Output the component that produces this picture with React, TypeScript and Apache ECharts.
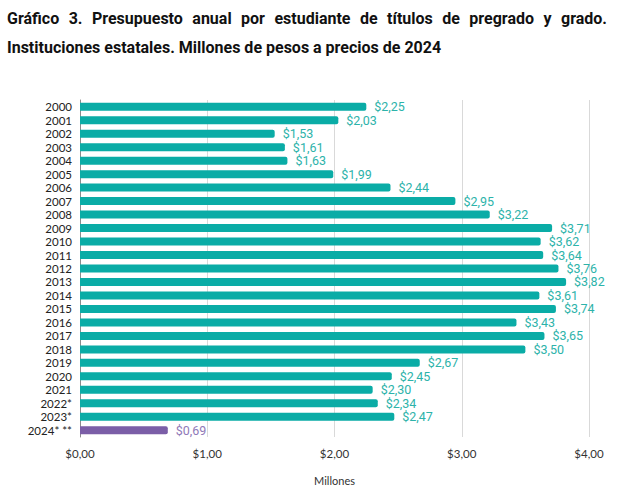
import React, { useEffect, useRef } from "react";
import * as echarts from "echarts";

const categories = ["2000","2001","2002","2003","2004","2005","2006","2007","2008","2009","2010","2011","2012","2013","2014","2015","2016","2017","2018","2019","2020","2021","2022*","2023*","2024* **"];
const values = [2.25,2.03,1.53,1.61,1.63,1.99,2.44,2.95,3.22,3.71,3.62,3.64,3.76,3.82,3.61,3.74,3.43,3.65,3.50,2.67,2.45,2.30,2.34,2.47,0.69];
const titleLine1 = "Gráfico 3. Presupuesto anual por estudiante de títulos de pregrado y grado.";
const titleLine2 = "Instituciones estatales. Millones de pesos a precios de 2024";

const TEAL = "#0aaca6";
const TEAL_LABEL = "#2db3aa";
const PURPLE = "#7b5ea7";
const PURPLE_LABEL = "#9079b8";

const fmt = (v: number) => "$" + v.toFixed(2).replace(".", ",");

export default function App() {
  const ref = useRef<HTMLDivElement>(null);
  useEffect(() => {
    if (!ref.current) return;
    const chart = echarts.init(ref.current, null, { renderer: "svg" });
    const titleFont = "bold 16px Roboto";
    const canvas = document.createElement("canvas");
    const ctx = canvas.getContext("2d")!;
    ctx.font = titleFont;
    const words = titleLine1.split(" ");
    const widths = words.map((w) => ctx.measureText(w).width);
    const left = 7, right = 607;
    const total = widths.reduce((a, b) => a + b, 0);
    const gap = (right - left - total) / (words.length - 1);
    let x = left;
    const wordEls: any[] = words.map((w, i) => {
      const el = {
        type: "text",
        x,
        y: 18,
        style: { text: w, font: titleFont, fill: "#111", textVerticalAlign: "middle" },
      };
      x += widths[i] + gap;
      return el;
    });
    chart.setOption({
      animation: false,
      graphic: [
        ...wordEls,
        {
          type: "text",
          x: 7,
          y: 47,
          style: { text: titleLine2, font: titleFont, fill: "#111", textVerticalAlign: "middle" },
        },
      ],
      grid: { left: 80, right: 35, top: 100, bottom: 56, containLabel: false },
      xAxis: {
        type: "value",
        min: 0,
        max: 4,
        interval: 1,
        axisLabel: {
          formatter: (v: number) => fmt(v),
          color: "#333",
          fontFamily: "Lato",
          fontSize: 11.5,
          margin: 10,
        },
        axisLine: { show: false },
        axisTick: { show: false },
        splitLine: { lineStyle: { color: "#d9d9d9" } },
        name: "Millones",
        nameLocation: "middle",
        nameGap: 38,
        nameTextStyle: { color: "#333", fontFamily: "Lato", fontSize: 11 },
      },
      yAxis: {
        type: "category",
        data: categories,
        inverse: true,
        axisLine: { show: true, lineStyle: { color: "#8c8c8c" } },
        axisTick: { show: false },
        axisLabel: { interval: 0, color: "#222", fontFamily: "Lato", fontSize: 11.5, margin: 8 },
      },
      series: [
        {
          type: "bar",
          barWidth: 8,
          data: values.map((v, i) => ({
            value: v,
            itemStyle: { color: i === values.length - 1 ? PURPLE : TEAL, borderRadius: [0, 2, 2, 0] },
            label: { color: i === values.length - 1 ? PURPLE_LABEL : TEAL_LABEL },
          })),
          label: {
            show: true,
            position: "right",
            distance: 8,
            formatter: (p: any) => fmt(p.value),
            fontFamily: "Roboto",
            fontSize: 12.5,
          },
        },
      ],
    });
    return () => chart.dispose();
  }, []);
  return <div ref={ref} style={{ width: 624, height: 493, position: "absolute", left: 0, top: 0, background: "#fff" }} />;
}
